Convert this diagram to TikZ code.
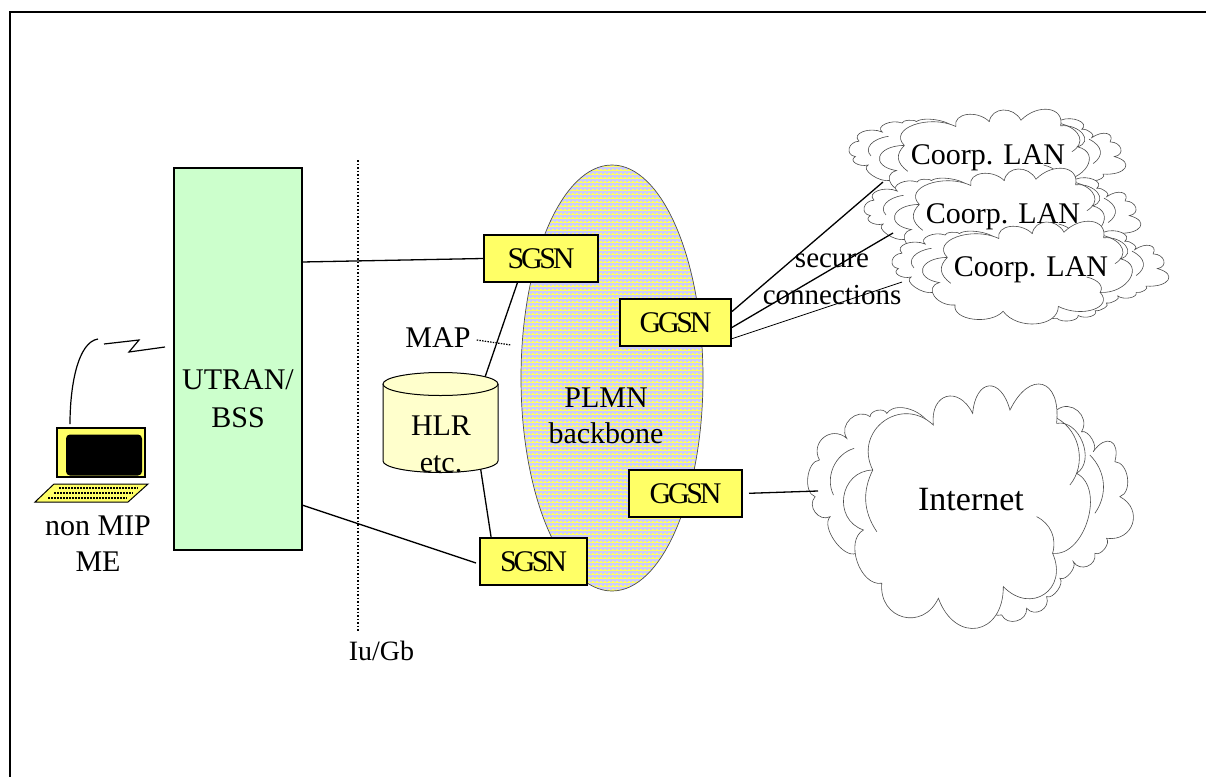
\documentclass[tikz,border=0pt]{standalone}
\usepackage{fontspec}
\setmainfont{Liberation Serif}
\newfontfamily\boxfont[LetterSpace=-11]{Liberation Serif}
\usepackage{xcolor}
\usetikzlibrary{positioning,shapes.geometric}
\definecolor{boxyellow}{HTML}{FFFF66}
\definecolor{palegreen}{HTML}{CCFFCC}
\definecolor{paleyellow}{HTML}{FFFFCC}
\definecolor{lavender}{HTML}{CCCCFF}
\tikzset{
labeltext/.style={font=\fontsize{30}{36}\selectfont,align=center,inner sep=0pt},
gsnbox/.style={draw,line width=2pt,fill=boxyellow,font=\boxfont\fontsize{30}{36}\selectfont,inner sep=0pt},
wire/.style={line width=1.3pt},
puff/.style={draw=black!70,line width=0.6pt,fill=white},
netcloud/.pic={
\begin{scope}[shift={(-570,-390)}]
\path[puff] (118,270) foreach \a/\b/\l in {200/205/1.5,270/140/1.3,320/130/1,450/190/1,600/200/1,740/170/1,830/120/1,905/185/1.4,940/245/.8,1005/275/2.4,1020/380/1,980/505/1.6,945/550/.9,880/575/1.4,840/625/.8,800/680/.8,740/715/1.4,665/735/1.3,620/660/1,480/640/1,320/620/1,228/550/.5,150/440/.8,105/380/1.3,118/270/.9} {to[bend left=80,looseness=\l] (\a,\b)};
\path[puff] (278,300) foreach \a/\b/\l in {460/165/1.5,578/130/2,690/120/2.4,830/160/2.4,890/310/1.1,818/550/1,670/650/1.7,475/685/1.9,305/640/1.6,250/480/1,278/300/1.4} {to[bend left=80,looseness=\l] (\a,\b)};
\draw[puff,fill=none] (832,145) to[bend left=50] (870,345);
\draw[puff,fill=none] (770,440) to[bend left=40] (818,550);
\draw[puff,fill=none] (278,300) to[bend right=30] (290,485);
\draw[puff,fill=none] (222,235) to[bend right=50] (160,375);
\draw[puff,fill=none] (930,255) to[bend left=40] (945,430);
\end{scope}
}}
\begin{document}
\begin{tikzpicture}[x=1pt,y=-1pt]
\useasboundingbox (0,0) rectangle (1206,776);
\draw[line width=1.3pt] (1230,12) -| (10,800);
% access side
\node[draw,line width=2pt,fill=palegreen,minimum width=128pt,minimum height=382pt,inner sep=0pt] (utran) at (238,359) {};
\node[labeltext,font=\fontsize{30}{38}\selectfont] (utranlabel) at (238,399) {UTRAN/\\BSS};
\draw[dotted,line width=1.5pt] (358,160) -- (358,632);
\node[labeltext,font=\fontsize{28}{32}\selectfont] (iugb) at (381.5,651) {Iu/Gb};
% backbone
\node[draw=black!70,ellipse,line width=0.7pt,minimum width=182pt,minimum height=426pt,inner sep=0pt,fill=lavender,path picture={
\foreach \ya in {-212,-208,...,212} {
\draw[boxyellow,line width=0.9pt] (-92,\ya) -- (92,\ya);
\draw[boxyellow,line width=2.5pt,dash pattern=on 2pt off 2pt] (-92,\ya) -- (92,\ya);
}}] (plmn) at (612,378) {};
\node[labeltext] (plmnlabel) at (606,416) {PLMN\\backbone};
\node[gsnbox,minimum width=114pt,minimum height=47pt] (sgsnup) at (541,258.5) {SGSN\hspace{16pt}};
\node[gsnbox,minimum width=111pt,minimum height=47pt] (ggsnup) at (675.5,322.5) {GGSN\hspace{12pt}};
\node[gsnbox,minimum width=113pt,minimum height=47pt] (ggsndown) at (685.5,493.5) {GGSN\hspace{12pt}};
\node[gsnbox,minimum width=107pt,minimum height=47pt] (sgsndown) at (533.5,561.5) {SGSN\hspace{12pt}};
% register
\node[minimum width=115pt,minimum height=92pt,inner sep=0pt] (hlr) at (440.5,423) {};
\node[labeltext] (maplabel) at (438,338) {MAP};
\coordinate (mapend) at (511,345);
\draw[line width=1.2pt,dash pattern=on 1.5pt off 1.2pt] (maplabel.east) ++(6,2) coordinate (mapstart) (mapstart) -- (mapend);
\coordinate (utranup) at (302,262);
\coordinate (utrandown) at (302,505);
\coordinate (sgsndownend) at (476,563);
\draw[wire] (utranup) -- (sgsnup.west);
\draw[wire] (utrandown) -- (sgsndownend);
\draw[wire] (sgsnup.-134) -- (hlr.46.6);
\draw[wire] (hlr.-49) -- (sgsndown.150);
\draw[line width=1pt,fill=paleyellow] (383,384) -- (383,461) arc[start angle=180,end angle=0,x radius=57.5,y radius=11.5] -- (498,384);
\draw[line width=1pt,fill=paleyellow] (440.5,384) ellipse[x radius=57.5,y radius=11.5];
\node[labeltext,font=\fontsize{30}{37}\selectfont] (hlrlabel) at (441,444) {HLR\\etc.};
% outer networks
\pic[xscale=0.283,yscale=0.14] at (987,158) {netcloud};
\node[labeltext] (lanone) at (988,158) {Coorp. LAN};
\pic[xscale=0.283,yscale=0.14] at (1002,217) {netcloud};
\node[labeltext] (lantwo) at (1003,217) {Coorp. LAN};
\pic[xscale=0.283,yscale=0.14] at (1030,270) {netcloud};
\node[labeltext] (lanthree) at (1031,270) {Coorp. LAN};
\pic[xscale=0.333,yscale=0.333] at (970,500) {netcloud};
\node[labeltext,font=\fontsize{34}{36}\selectfont] (internet) at (971,500) {Internet};
\coordinate (lanoneend) at (883,182);
\coordinate (lantwoend) at (893,233);
\coordinate (lanthreeend) at (902,282);
\coordinate (internetend) at (818,491);
\draw[wire] (ggsnup.11.7) -- (lanoneend);
\draw[wire] (ggsnup.-5.6) -- (lantwoend);
\draw[line width=0.8pt] (ggsnup.-16.5) -- (lanthreeend);
\draw[wire,shorten <=6pt] (ggsndown.east) -- (internetend);
\node[labeltext,font=\fontsize{29}{37}\selectfont] (securelabel) at (832,279) {secure\hspace{18pt}\\connections};
% terminal
\node[draw,line width=2pt,fill=boxyellow,minimum width=88pt,minimum height=49pt,inner sep=0pt] (screen) at (101,452.5) {};
\node[fill=black,rounded corners=4pt,minimum width=76pt,minimum height=41pt,inner sep=0pt] (display) at (104,455) {};
\draw[line width=1pt,fill=boxyellow] (35,502) -- (128,502) -- (148,484) -- (54,484) -- cycle;
\foreach \ya/\xa/\xb in {488/59/138,493/54/133,498/48/127}
\draw[line width=1.8pt,dash pattern=on 1.8pt off 1.2pt] (\xa,\ya) -- (\xb,\ya);
\node[labeltext] (melabel) at (98,544) {non MIP\\ME};
\coordinate (antbase) at (70,424);
\coordinate (anttip) at (98,339);
\draw[line width=1.2pt] (antbase) .. controls (70,385) and (78,342) .. (anttip);
\coordinate (boltstart) at (104,344);
\coordinate (boltend) at (165,347);
\draw[line width=1.2pt] (boltstart) -- (139,340) -- (129,352) -- (boltend);
\end{tikzpicture}
\end{document}
